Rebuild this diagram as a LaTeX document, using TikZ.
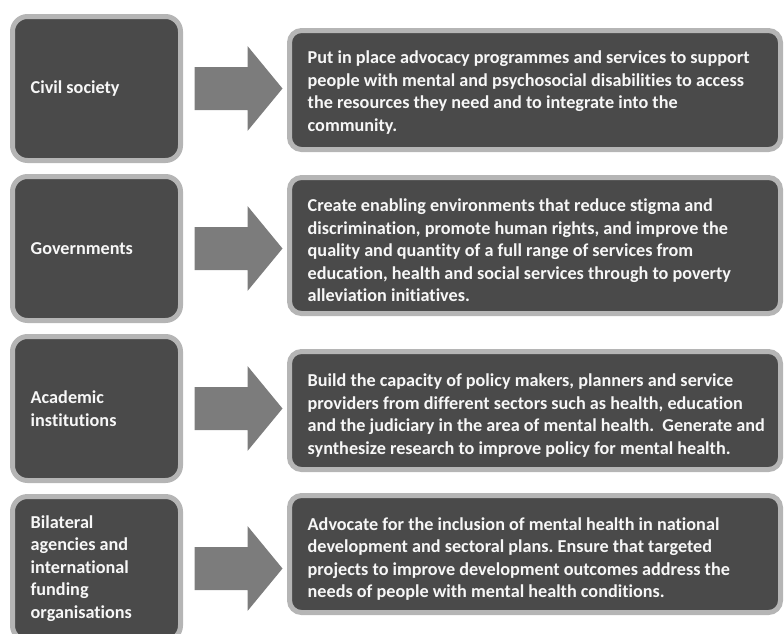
\documentclass[tikz,border=0pt]{standalone}
\usepackage{fontspec}
\setmainfont{Carlito}[Ligatures={NoCommon}]
\frenchspacing
\definecolor{boxfill}{HTML}{4A4A4A}
\definecolor{boxrim}{HTML}{B5B5B5}
\definecolor{arrowgray}{HTML}{7C7C7C}
\definecolor{textwhite}{HTML}{F7F7F7}
\begin{document}
\begin{tikzpicture}[x=1pt,y=-1pt,
  actor/.style={draw=boxrim, fill=boxfill, line width=5pt, rounded corners=15pt,
    minimum width=168pt, minimum height=144pt, inner sep=0pt},
  task/.style={draw=boxrim, fill=boxfill, line width=5pt, rounded corners=12pt,
    minimum width=491pt, inner sep=0pt},
  label/.style={text=textwhite, anchor=west, align=left, inner sep=0pt,
    font=\bfseries\fontsize{18.2}{22.5}\selectfont},
  blockarrow/.pic={\fill[arrowgray] (0,-21.5) -- (53,-21.5) -- (53,-42.5) -- (88,0)
    -- (53,42.5) -- (53,21.5) -- (0,21.5) -- cycle;}
]
\useasboundingbox (0,0) rectangle (784,633);

% left column: the actors
\node[actor] (a1) at (96.5,88.5) {};
\node[actor] (a2) at (96.5,248.5) {};
\node[actor] (a3) at (96.5,408.5) {};
\node[actor] (a4) at (96.5,568.5) {};

% right column: what each actor does
\node[task, minimum height=119pt] (r1) at (535,90) {};
\node[task, minimum height=136pt] (r2) at (535,245.5) {};
\node[task, minimum height=118pt] (r3) at (535,410.5) {};
\node[task, minimum height=117pt] (r4) at (535,554) {};

% block arrows between the columns
\pic at ([xshift=11.5pt]a1.east) {blockarrow};
\pic at ([xshift=11.5pt]a2.east) {blockarrow};
\pic at ([xshift=11.5pt]a3.east) {blockarrow};
\pic at ([xshift=11.5pt]a4.east) {blockarrow};

% actor names
\node[label] (ta1) at ([xshift=20.5pt]a1.west) {Civil society};
\node[label] (ta2) at ([xshift=20.5pt]a2.west) {Governments};
\node[label] (ta3) at ([xshift=20.5pt]a3.west) {Academic\\institutions};
\node[label] (ta4) at ([xshift=20.5pt]a4.west) {Bilateral\\agencies and\\international\\funding\\organisations};

% task descriptions (yshift is in page units: negative moves down)
\node[label] (tr1) at ([xshift=20.5pt,yshift=-2.5pt]r1.west) {Put in place advocacy programmes and services to support\\people with mental and psychosocial disabilities to access\\the resources they need and to integrate into the\\community.};
\node[label] (tr2) at ([xshift=20.5pt,yshift=-5pt]r2.west) {Create enabling environments that reduce stigma and\\discrimination, promote human rights, and improve the\\quality and quantity of a full range of services from\\education, health and social services through to poverty\\alleviation initiatives.};
\node[label] (tr3) at ([xshift=20.5pt,yshift=-5pt]r3.west) {Build the capacity of policy makers, planners and service\\providers from different sectors such as health, education\\and the judiciary in the area of mental health.\ \ Generate and\\synthesize research to improve policy for mental health.};
\node[label] (tr4) at ([xshift=20.5pt,yshift=-5pt]r4.west) {Advocate for the inclusion of mental health in national\\development and sectoral plans. Ensure that targeted\\projects to improve development outcomes address the\\needs of people with mental health conditions.};
\end{tikzpicture}
\end{document}
